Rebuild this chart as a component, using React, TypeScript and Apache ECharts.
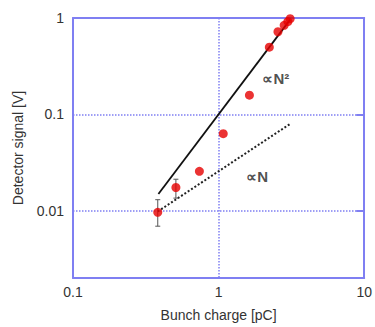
import React, { useEffect, useRef } from 'react';
import * as echarts from 'echarts';

const chargePC = [0.382, 0.509, 0.738, 1.076, 1.628, 2.23, 2.556, 2.82, 2.99, 3.1];
const signalV = [0.0096, 0.0174, 0.0256, 0.063, 0.158, 0.498, 0.72, 0.84, 0.917, 0.984];
const errCharge = [0.382, 0.509];
const errLow = [0.0069, 0.0135];
const errHigh = [0.013, 0.0212];
const quadX = [0.386, 3.1];
const quadY = [0.0149, 0.961];
const linX = [0.382, 3.1];
const linY = [0.0098, 0.0796];
const noteText = ['∝N²', '∝N'];
const noteX = [2.0, 1.55];
const noteY = [0.235, 0.0224];
const xRange = [0.1, 10];
const yRange = [0.002, 1];

const FONT = "'Liberation Sans', Arial, sans-serif";
const BLUE = '#7f7ff2';

const isPow10 = (v: number) => {
  const l = Math.log10(v);
  return Math.abs(l - Math.round(l)) < 1e-6;
};

export default function App() {
  const ref = useRef<HTMLDivElement>(null);
  useEffect(() => {
    document.body.style.margin = '0';
    const chart = echarts.init(ref.current!, null, { renderer: 'svg' });
    const axisLabel = {
      color: '#333',
      fontSize: 14,
      fontFamily: FONT,
      formatter: (v: number) => (isPow10(v) ? String(Number(v.toPrecision(6))) : ''),
    };
    chart.setOption({
      animation: false,
      backgroundColor: '#fff',
      grid: { left: 73, right: 10, top: 18, bottom: 44, show: false },
      xAxis: [
        {
          type: 'log',
          min: xRange[0],
          max: xRange[1],
          logBase: 10,
          name: 'Bunch charge [pC]',
          nameLocation: 'middle',
          nameGap: 30,
          nameTextStyle: { color: '#333', fontSize: 14, fontFamily: FONT },
          axisLine: { show: true, lineStyle: { color: BLUE, width: 2 } },
          axisTick: { show: false },
          axisLabel: { ...axisLabel, margin: 7 },
          splitLine: { show: true, lineStyle: { color: BLUE, type: 'dotted', width: 1.5 } },
          minorTick: { show: false },
        },
        {
          type: 'log',
          position: 'top',
          min: xRange[0],
          max: xRange[1],
          axisLine: { show: true, onZero: false, lineStyle: { color: BLUE, width: 2 } },
          axisTick: { show: false },
          axisLabel: { show: false },
          splitLine: { show: false },
        },
      ],
      yAxis: [
        {
          type: 'log',
          min: yRange[0],
          max: yRange[1],
          logBase: 10,
          name: 'Detector signal [V]',
          nameLocation: 'middle',
          nameGap: 48,
          nameTextStyle: { color: '#333', fontSize: 14, fontFamily: FONT },
          axisLine: { show: true, lineStyle: { color: BLUE, width: 2 } },
          axisTick: { show: false },
          axisLabel: { ...axisLabel, margin: 9 },
          splitLine: {
            show: true,
            lineStyle: { color: BLUE, type: 'dotted', width: 1.5 },
          },
        },
        {
          type: 'log',
          position: 'right',
          min: yRange[0],
          max: yRange[1],
          axisLine: { show: true, onZero: false, lineStyle: { color: BLUE, width: 2 } },
          axisTick: { show: true, inside: true, length: 8, lineStyle: { color: BLUE, width: 2 } },
          axisLabel: { show: false },
          splitLine: { show: false },
        },
      ],
      series: [
        {
          type: 'line',
          data: linX.map((x, i) => [x, linY[i]]),
          showSymbol: false,
          symbol: 'none',
          lineStyle: { color: '#222', width: 2, type: 'dotted' },
          z: 2,
        },
        {
          type: 'line',
          data: quadX.map((x, i) => [x, quadY[i]]),
          showSymbol: false,
          symbol: 'none',
          lineStyle: { color: '#111', width: 1.8 },
          z: 2,
        },
        {
          type: 'custom',
          data: errCharge.map((x, i) => [x, errLow[i], errHigh[i]]),
          renderItem: (params: any, api: any) => {
            const lo = api.coord([api.value(0), api.value(1)]);
            const hi = api.coord([api.value(0), api.value(2)]);
            const st = { stroke: '#555', lineWidth: 1 };
            return {
              type: 'group',
              children: [
                { type: 'line', shape: { x1: lo[0], y1: lo[1], x2: hi[0], y2: hi[1] }, style: st },
                { type: 'line', shape: { x1: lo[0] - 2.5, y1: lo[1], x2: lo[0] + 2.5, y2: lo[1] }, style: st },
                { type: 'line', shape: { x1: hi[0] - 2.5, y1: hi[1], x2: hi[0] + 2.5, y2: hi[1] }, style: st },
              ],
            };
          },
          z: 3,
        },
        {
          type: 'scatter',
          data: chargePC.map((x, i) => [x, signalV[i]]),
          symbol: 'circle',
          symbolSize: 9,
          itemStyle: { color: '#e60000' },
          z: 4,
        },
        {
          type: 'scatter',
          data: noteX.map((x, i) => ({ value: [x, noteY[i]], name: noteText[i] })),
          symbolSize: 0,
          silent: true,
          label: {
            show: true,
            position: 'right',
            distance: 0,
            formatter: (p: any) => p.name,
            color: '#222',
            fontSize: 15,
            fontWeight: 'bold',
            fontFamily: FONT,
          },
          z: 5,
        },
      ],
    });
    return () => chart.dispose();
  }, []);
  return <div ref={ref} style={{ width: 375, height: 327 }} />;
}
